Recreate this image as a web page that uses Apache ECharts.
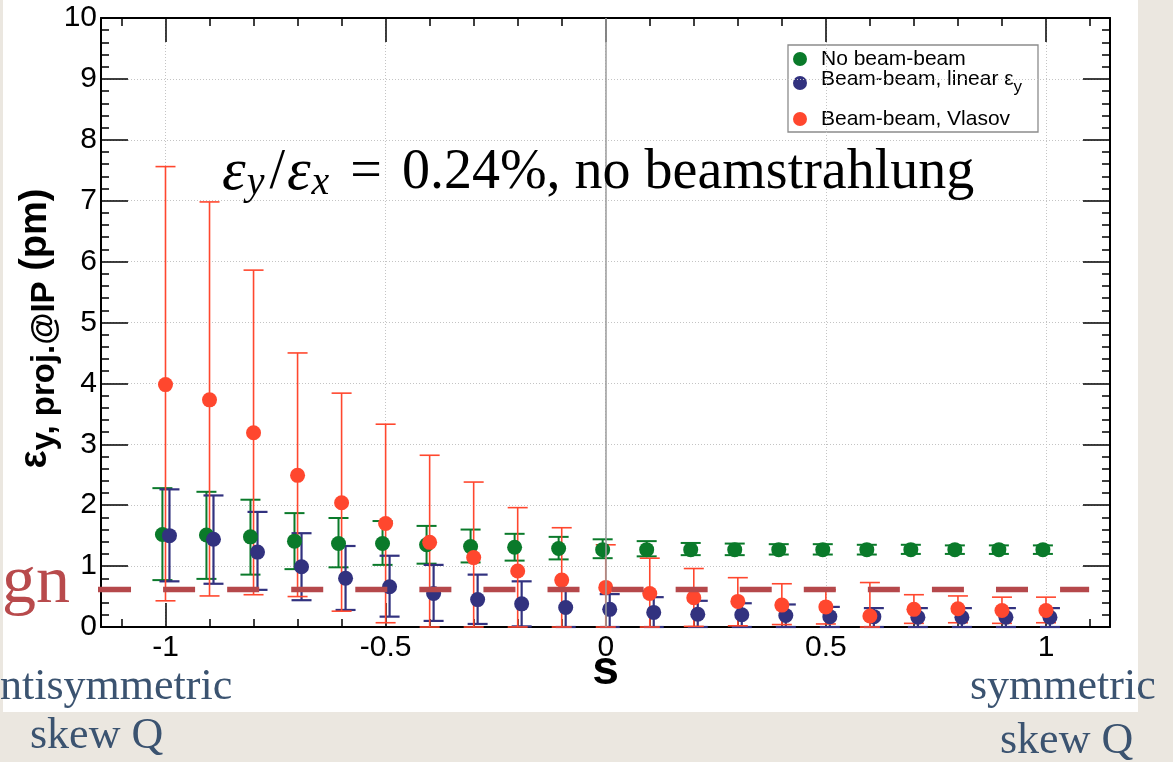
<!DOCTYPE html>
<html>
<head>
<meta charset="utf-8">
<script src="https://cdn.jsdelivr.net/npm/echarts@6/dist/echarts.min.js"></script>
<style>
  html, body { margin: 0; padding: 0; width: 1173px; height: 762px; overflow: hidden; background: #ebe7e0; }
  #panel { position: absolute; left: 3px; top: 0; width: 1135px; height: 712px; background: #ffffff; }
  #chart { position: absolute; left: 0; top: 0; width: 1173px; height: 762px; }
</style>
</head>
<body>
<div id="panel"></div>
<div id="chart"></div>
<script>
// skew-quad mixing parameter s
const sValues = [-1, -0.9, -0.8, -0.7, -0.6, -0.5, -0.4, -0.3, -0.2, -0.1, 0,
                 0.1, 0.2, 0.3, 0.4, 0.5, 0.6, 0.7, 0.8, 0.9, 1];

// No beam-beam: projected vertical emittance (pm) with error band
const noBeamBeam   = [1.52, 1.51, 1.48, 1.41, 1.37, 1.37, 1.35, 1.32, 1.31, 1.29, 1.27,
                      1.27, 1.27, 1.27, 1.27, 1.27, 1.27, 1.27, 1.27, 1.27, 1.27];
const noBeamBeamHi = [2.28, 2.22, 2.09, 1.87, 1.79, 1.74, 1.66, 1.60, 1.53, 1.48, 1.44,
                      1.41, 1.38, 1.37, 1.36, 1.36, 1.35, 1.35, 1.34, 1.34, 1.34];
const noBeamBeamLo = [0.77, 0.79, 0.86, 0.95, 0.98, 1.02, 1.04, 1.06, 1.09, 1.11, 1.13,
                      1.16, 1.18, 1.18, 1.19, 1.19, 1.19, 1.20, 1.20, 1.20, 1.20];

// Beam-beam, linear emittance model
const linearBB   = [1.50, 1.44, 1.23, 0.99, 0.80, 0.66, 0.55, 0.45, 0.38, 0.32, 0.29,
                    0.24, 0.21, 0.20, 0.19, 0.17, 0.17, 0.16, 0.16, 0.16, 0.16];
const linearBBHi = [2.26, 2.16, 1.89, 1.54, 1.33, 1.17, 1.02, 0.86, 0.75, 0.61, 0.54,
                    0.49, 0.43, 0.39, 0.37, 0.33, 0.31, 0.31, 0.31, 0.31, 0.31];
const linearBBLo = [0.75, 0.71, 0.61, 0.44, 0.28, 0.17, 0.10, 0.05, 0.01, 0, 0,
                    0, 0, 0, 0, 0, 0, 0, 0, 0, 0];

// Beam-beam, Vlasov model
const vlasovBB   = [3.98, 3.73, 3.19, 2.49, 2.04, 1.70, 1.39, 1.14, 0.92, 0.77, 0.65,
                    0.55, 0.48, 0.42, 0.36, 0.33, 0.18, 0.29, 0.30, 0.27, 0.27];
const vlasovBBHi = [7.56, 6.98, 5.86, 4.50, 3.84, 3.33, 2.82, 2.38, 1.96, 1.63, 1.35,
                    1.13, 0.96, 0.81, 0.71, 0.61, 0.73, 0.53, 0.51, 0.49, 0.49];
const vlasovBBLo = [0.43, 0.51, 0.53, 0.50, 0.26, 0.07, 0, 0, 0, 0, 0,
                    0, 0.01, 0.02, 0.04, 0.05, 0, 0.06, 0.07, 0.06, 0.07];

// small horizontal shifts so overlapping graphs stay readable
const noBeamBeamShift = -0.007;
const linearBBShift = 0.009;
const vlasovShift = 0;

// design emittance reference level (pm) and its extent in s
const designLevel = 0.615;
const designStart = -1.19;
const designDashStart = -1.151;
const designEnd = 1.098;

// axis ranges
const sRange = [-1.1465, 1.1454];
const emitRange = [0, 10];

const GREEN = '#0a7a2a';
const BLUE = '#32327f';
const RED = '#ff472e';
const DESIGN = '#b5484b';
const SLATE = '#3b5370';

function points(vals, shift) {
  return sValues.map((s, i) => [+(s + shift).toFixed(4), vals[i]]);
}
function bars(lo, hi, shift) {
  return sValues.map((s, i) => [+(s + shift).toFixed(4), lo[i], hi[i]]);
}

function errorBars(color, width) {
  return function (params, api) {
    const x = api.value(0);
    const pLo = api.coord([x, api.value(1)]);
    const pHi = api.coord([x, api.value(2)]);
    const half = 10;
    const st = { stroke: color, lineWidth: width, fill: null };
    return {
      type: 'group',
      children: [
        { type: 'line', shape: { x1: pLo[0], y1: pLo[1], x2: pHi[0], y2: pHi[1] }, style: st },
        { type: 'line', shape: { x1: pHi[0] - half, y1: pHi[1], x2: pHi[0] + half, y2: pHi[1] }, style: st },
        { type: 'line', shape: { x1: pLo[0] - half, y1: pLo[1], x2: pLo[0] + half, y2: pLo[1] }, style: st }
      ]
    };
  };
}

const AXIS_FONT = 'Liberation Sans, Arial, sans-serif';
const SERIF = 'Liberation Serif, Times New Roman, serif';

const tickStyle = { color: '#000', width: 1.5 };
const gridLine = { show: true, lineStyle: { color: '#c4c4c4', width: 1, type: [1, 2] } };

function xAxisCfg(pos, labels) {
  return {
    type: 'value', position: pos, min: sRange[0], max: sRange[1],
    splitNumber: 5, minInterval: 0.5, maxInterval: 0.5,
    axisLine: { show: true, onZero: false, lineStyle: { color: '#000', width: 2 } },
    axisTick: { show: true, inside: true, length: 24, lineStyle: tickStyle },
    minorTick: { show: true, splitNumber: 5, length: 8, lineStyle: tickStyle },
    axisLabel: labels ? {
      show: true, fontSize: 30, color: '#000', fontFamily: AXIS_FONT, margin: 6,
      showMinLabel: false, showMaxLabel: false
    } : { show: false },
    splitLine: labels ? gridLine : { show: false },
    name: labels ? 's' : '',
    nameLocation: 'middle', nameGap: 20, nameMoveOverlap: false,
    nameTextStyle: { fontSize: 48, fontWeight: 'bold', color: '#000', fontFamily: AXIS_FONT }
  };
}

function yAxisCfg(pos, labels) {
  return {
    type: 'value', position: pos, min: emitRange[0], max: emitRange[1], interval: 1,
    axisLine: { show: true, onZero: false, lineStyle: { color: '#000', width: 2 } },
    axisTick: { show: true, inside: true, length: 27, lineStyle: tickStyle },
    minorTick: { show: true, splitNumber: 5, length: 8, lineStyle: tickStyle },
    axisLabel: labels ? { show: true, fontSize: 30, color: '#000', fontFamily: AXIS_FONT, margin: 4 } : { show: false },
    splitLine: labels ? gridLine : { show: false },
    name: labels ? '{e|ε}{s|y, proj.@IP}{e| (pm)}' : '',
    nameLocation: 'middle', nameRotate: 90, nameGap: 40, nameMoveOverlap: false,
    nameTextStyle: {
      color: '#000',
      padding: [0, 12, 0, 0],
      rich: {
        e: { fontSize: 38, fontWeight: 'bold', fontFamily: AXIS_FONT, lineHeight: 50, verticalAlign: 'middle', color: '#000' },
        s: { fontSize: 33, fontWeight: 'bold', fontFamily: AXIS_FONT, lineHeight: 34, verticalAlign: 'bottom', color: '#000' }
      }
    }
  };
}

const chart = echarts.init(document.getElementById('chart'), null, { renderer: 'canvas' });

const option = {
  backgroundColor: 'transparent',
  animation: false,
  grid: { left: 101, right: 63, top: 18, bottom: 135, containLabel: false },
  xAxis: [xAxisCfg('bottom', true), xAxisCfg('top', false)],
  yAxis: [yAxisCfg('left', true), yAxisCfg('right', false)],
  series: [
    {
      name: 'No beam-beam errors', type: 'custom', renderItem: errorBars(GREEN, 2),
      data: bars(noBeamBeamLo, noBeamBeamHi, noBeamBeamShift),
      encode: { x: 0, y: [1, 2] }, clip: false, silent: true,
      markLine: {
        silent: true, symbol: 'none', label: { show: false },
        lineStyle: { color: '#9c9c9c', width: 1.5, type: 'solid' },
        data: [{ xAxis: 0 }]
      }
    },
    {
      name: 'No beam-beam', type: 'scatter', symbol: 'circle', symbolSize: 15,
      data: points(noBeamBeam, noBeamBeamShift), itemStyle: { color: GREEN, opacity: 1 }, silent: true
    },
    {
      name: 'Beam-beam, linear errors', type: 'custom', renderItem: errorBars(BLUE, 2.2),
      data: bars(linearBBLo, linearBBHi, linearBBShift),
      encode: { x: 0, y: [1, 2] }, clip: false, silent: true
    },
    {
      name: 'Beam-beam, linear', type: 'scatter', symbol: 'circle', symbolSize: 15,
      data: points(linearBB, linearBBShift), itemStyle: { color: BLUE, opacity: 1 }, silent: true
    },
    {
      name: 'Beam-beam, Vlasov errors', type: 'custom', renderItem: errorBars(RED, 1.6),
      data: bars(vlasovBBLo, vlasovBBHi, vlasovShift),
      encode: { x: 0, y: [1, 2] }, clip: false, silent: true
    },
    {
      name: 'Beam-beam, Vlasov', type: 'scatter', symbol: 'circle', symbolSize: 15,
      data: points(vlasovBB, vlasovShift), itemStyle: { color: RED, opacity: 1 }, silent: true
    },
    {
      name: 'design lead', type: 'line', clip: false, silent: true, symbol: 'none',
      data: [[designStart, designLevel], [designDashStart, designLevel]],
      lineStyle: { color: DESIGN, width: 5.5, type: 'solid' }, z: 5
    },
    {
      name: 'design', type: 'line', clip: false, silent: true, symbol: 'none',
      data: [[designDashStart, designLevel], [designEnd, designLevel]],
      lineStyle: { color: DESIGN, width: 5.5, type: [32, 32.07] }, z: 5
    }
  ],
  graphic: [
    // annotation inside the frame
    {
      type: 'text', left: 222, top: 143, z: 50, silent: true,
      style: {
        text: '{e|ε}{s|y}{r|/}{e|ε}{s|x}{q|=}{r|0.24%, no beamstrahlung}',
        fill: '#000',
        rich: {
          e: { fontFamily: SERIF, fontStyle: 'italic', fontSize: 60, lineHeight: 60, verticalAlign: 'middle', fill: '#000' },
          s: { fontFamily: SERIF, fontStyle: 'italic', fontSize: 40, lineHeight: 40, verticalAlign: 'bottom', fill: '#000', padding: [0, 3, 0, 1] },
          r: { fontFamily: SERIF, fontSize: 56, lineHeight: 60, verticalAlign: 'middle', fill: '#000', padding: [0, 2, 0, 2] },
          q: { fontFamily: SERIF, fontSize: 56, lineHeight: 60, verticalAlign: 'middle', fill: '#000', padding: [0, 18, 0, 18] }
        }
      }
    },
    // legend box
    {
      type: 'group', z: 60, silent: true,
      children: [
        { type: 'rect', shape: { x: 788, y: 45, width: 250, height: 87 }, style: { fill: '#fff', stroke: '#8c8c8c', lineWidth: 1.3 } },
        { type: 'circle', shape: { cx: 800, cy: 59, r: 7 }, style: { fill: GREEN } },
        { type: 'circle', shape: { cx: 800, cy: 83, r: 7 }, style: { fill: BLUE } },
        { type: 'circle', shape: { cx: 800, cy: 119, r: 7 }, style: { fill: RED } },
        { type: 'text', x: 821, y: 59, style: { text: 'No beam-beam', fontFamily: AXIS_FONT, fontSize: 21, fill: '#000', verticalAlign: 'middle' } },
        {
          type: 'text', x: 821, y: 82,
          style: {
            text: '{n|Beam-beam, linear ε}{s|y}', verticalAlign: 'middle', fill: '#000',
            rich: {
              n: { fontFamily: AXIS_FONT, fontSize: 21, lineHeight: 27, verticalAlign: 'top', fill: '#000' },
              s: { fontFamily: AXIS_FONT, fontSize: 17, lineHeight: 17, verticalAlign: 'bottom', fill: '#000' }
            }
          }
        },
        { type: 'text', x: 821, y: 119, style: { text: 'Beam-beam, Vlasov', fontFamily: AXIS_FONT, fontSize: 21, fill: '#000', verticalAlign: 'middle' } }
      ]
    },
    // slide captions around the figure
    { type: 'text', x: 2, y: 584, z: 40, silent: true, style: { text: 'gn', fontFamily: SERIF, fontSize: 68, fill: '#b84a4c', verticalAlign: 'middle' } },
    { type: 'text', x: 0, y: 687, z: 40, silent: true, style: { text: 'ntisymmetric', fontFamily: SERIF, fontSize: 44, fill: SLATE, verticalAlign: 'middle' } },
    { type: 'text', x: 30, y: 736, z: 40, silent: true, style: { text: 'skew Q', fontFamily: SERIF, fontSize: 44, fill: SLATE, verticalAlign: 'middle' } },
    { type: 'text', x: 970, y: 687, z: 40, silent: true, style: { text: 'symmetric', fontFamily: SERIF, fontSize: 44, fill: SLATE, verticalAlign: 'middle' } },
    { type: 'text', x: 1000, y: 741, z: 40, silent: true, style: { text: 'skew Q', fontFamily: SERIF, fontSize: 44, fill: SLATE, verticalAlign: 'middle' } }
  ]
};

chart.setOption(option);
</script>
</body>
</html>
